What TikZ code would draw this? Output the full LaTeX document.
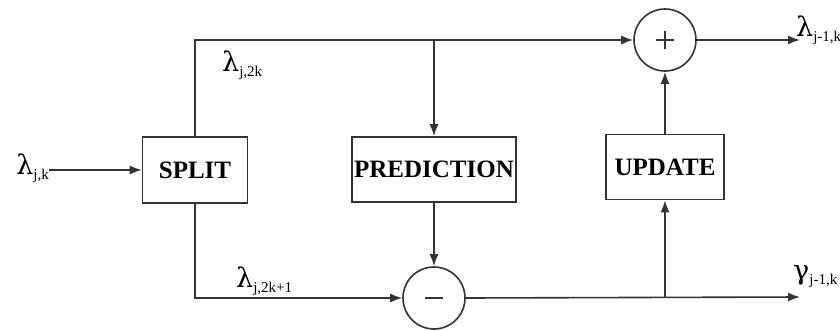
\documentclass[tikz,border=0pt]{standalone}
\usepackage{fontspec}
\setmainfont{Liberation Serif}
\newfontfamily\greekfont{DejaVu Serif}
\usetikzlibrary{arrows.meta}
\newcommand{\sigsym}[2]{{\greekfont\fontsize{27}{27}\selectfont #1}\raisebox{-5pt}{\fontsize{15}{15}\selectfont #2}}
\begin{document}
\begin{tikzpicture}[x=1pt,y=-1pt,
  line/.style={draw=black!80, line width=1.6pt},
  arr/.style={line, -{Latex[length=12pt,width=9pt]}},
  block/.style={rectangle, draw=black!80, line width=1.6pt, font=\fontsize{25}{25}\selectfont\bfseries, inner sep=0pt},
  sumnode/.style={circle, draw=black!80, line width=1.6pt, minimum size=62pt, inner sep=0pt},
  plussign/.style={path picture={
      \draw[black!80, line width=1.5pt] ([xshift=-9pt]path picture bounding box.center) -- ([xshift=9pt]path picture bounding box.center);
      \draw[black!80, line width=1.5pt] ([yshift=-9pt]path picture bounding box.center) -- ([yshift=9pt]path picture bounding box.center);}},
  minussign/.style={path picture={
      \draw[black!80, line width=2.4pt] ([xshift=-9pt]path picture bounding box.center) -- ([xshift=9pt]path picture bounding box.center);}},
  lbl/.style={inner sep=0pt}]
\useasboundingbox (0,0) rectangle (840,330);
% blocks
\node[block, minimum width=105pt, minimum height=66pt] (split) at (195,170) {SPLIT};
\node[block, minimum width=164pt, minimum height=65pt] (pred) at (434,169.5) {PREDICTION};
\node[block, minimum width=118pt, minimum height=65pt] (upd) at (665,167) {UPDATE};
\node[sumnode, plussign] (plus) at (665,40) {};
\node[sumnode, minussign] (minus) at (434,298) {};
% labels
\node[lbl, anchor=east] (lin) at (49,168) {\sigsym{λ}{j,k}};
\node[lbl, anchor=north west] (l2k) at (222,51) {\sigsym{λ}{j,2k}};
\node[lbl, anchor=north west] (l2k1) at (236,267) {\sigsym{λ}{j,2k+1}};
\coordinate (out1) at (800,40);
\coordinate (out2) at (800,297);
\node[lbl, anchor=west] (lout) at ([xshift=-4pt,yshift=10pt]out1) {\sigsym{λ}{j-1,k}};
\node[lbl, anchor=west] (gout) at ([xshift=-7pt,yshift=20pt]out2) {\sigsym{γ}{j-1,k}};
% connectors
\draw[arr] (lin.east |- split.west) -- (split.west);
\draw[arr] (split.north) |- (plus.west);
\draw[arr] (pred.north |- plus.west) -- (pred.north);
\draw[arr] (upd.north) -- (plus.south);
\draw[arr] (plus.east) -- (out1);
\draw[arr] (split.south) |- (minus.west);
\draw[arr] (pred.south) -- (minus.north);
\draw[arr] (minus.east) -- (out2);
\draw[arr] (upd.south |- minus.east) -- (upd.south);
\end{tikzpicture}
\end{document}
